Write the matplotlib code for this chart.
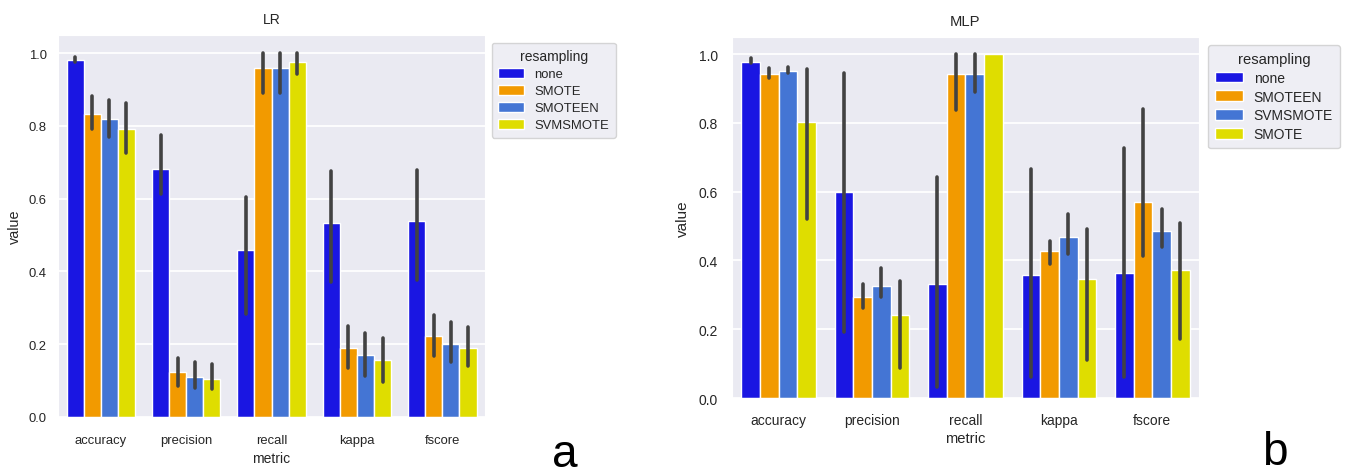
import matplotlib
matplotlib.use('Agg')
import matplotlib.pyplot as plt
import numpy as np
import seaborn as sns

sns.set_style('darkgrid')
plt.rcParams['font.family'] = ['Liberation Sans', 'DejaVu Sans']

metrics = ['accuracy', 'precision', 'recall', 'kappa', 'fscore']

# LR panel
lr_hues = ['none', 'SMOTE', 'SMOTEEN', 'SVMSMOTE']
lr_mean = [[0.980, 0.682, 0.458, 0.532, 0.540],
           [0.834, 0.125, 0.960, 0.190, 0.222],
           [0.818, 0.111, 0.960, 0.170, 0.202],
           [0.793, 0.105, 0.977, 0.157, 0.190]]
lr_lo = [[0.977, 0.614, 0.282, 0.372, 0.376],
         [0.792, 0.085, 0.891, 0.135, 0.168],
         [0.769, 0.081, 0.891, 0.114, 0.151],
         [0.726, 0.076, 0.944, 0.095, 0.140]]
lr_hi = [[0.989, 0.775, 0.605, 0.675, 0.680],
         [0.881, 0.161, 1.000, 0.250, 0.279],
         [0.870, 0.150, 1.000, 0.230, 0.262],
         [0.864, 0.147, 1.000, 0.216, 0.248]]

# MLP panel
mlp_hues = ['none', 'SMOTEEN', 'SVMSMOTE', 'SMOTE']
mlp_mean = [[0.976, 0.599, 0.332, 0.358, 0.364],
            [0.941, 0.295, 0.941, 0.427, 0.569],
            [0.950, 0.327, 0.941, 0.469, 0.486],
            [0.803, 0.240, 1.000, 0.345, 0.371]]
mlp_lo = [[0.974, 0.193, 0.031, 0.062, 0.062],
          [0.931, 0.262, 0.837, 0.391, 0.412],
          [0.945, 0.295, 0.890, 0.419, 0.438],
          [0.521, 0.087, 1.000, 0.112, 0.172]]
mlp_hi = [[0.988, 0.946, 0.643, 0.665, 0.728],
          [0.959, 0.332, 1.000, 0.458, 0.842],
          [0.962, 0.378, 1.000, 0.535, 0.549],
          [0.956, 0.340, 1.000, 0.491, 0.510]]

colors = ['#1a16e2', '#f29a00', '#4475d4', '#dfdd00']


def panel(ax, title, hues, mean, lo, hi, fs, leg_anchor, xpad, ypad, xlpad, ylpad):
    x = np.arange(len(metrics))
    w = 0.2
    for i, h in enumerate(hues):
        pos = x - 0.3 + i * w
        ax.bar(pos, mean[i], width=w, color=colors[i], edgecolor='white',
               linewidth=1, label=h, zorder=2)
        # barres d'erreur (intervalle de confiance)
        for p, l, u in zip(pos, lo[i], hi[i]):
            if u - l > 0.001:
                ax.plot([p, p], [l, u], color='#424242', lw=2.6,
                        solid_capstyle='round', zorder=3)
    ax.set_xlim(-0.5, 4.5)
    ax.set_ylim(0, 1.05)
    ax.set_yticks([0, 0.2, 0.4, 0.6, 0.8, 1.0])
    ax.set_xticks(x)
    ax.set_xticklabels(metrics)
    ax.tick_params(axis='x', labelsize=fs, pad=xpad, length=0)
    ax.tick_params(axis='y', labelsize=fs, pad=ypad, length=0)
    ax.grid(axis='y', color='white', lw=1.3)
    ax.grid(axis='x', visible=False)
    ax.set_axisbelow(True)
    ax.set_title(title, fontsize=fs * 1.06, pad=9)
    ax.set_xlabel('metric', fontsize=fs * 1.06, labelpad=xlpad)
    ax.set_ylabel('value', fontsize=fs * 1.1, labelpad=ylpad)
    leg = ax.legend(title='resampling', loc='upper left', bbox_to_anchor=leg_anchor,
                    bbox_transform=ax.figure.transFigure, fontsize=fs,
                    title_fontsize=fs + 0.6, frameon=True, handlelength=2.0,
                    handleheight=0.8, borderpad=0.5, labelspacing=0.35)
    leg.get_frame().set_facecolor('#eaeaf2')
    leg.get_frame().set_edgecolor('#cccccc')


fig = plt.figure(figsize=(13.47, 4.77), dpi=100)
ax1 = fig.add_axes([0.0431, 0.1237, 0.3170, 0.8008])
ax2 = fig.add_axes([0.5434, 0.1635, 0.3467, 0.7568])

panel(ax1, 'LR', lr_hues, lr_mean, lr_lo, lr_hi, 9.4,
      (485 / 1347, 1 - 37 / 477), 12, 8, 4, 5)
panel(ax2, 'MLP', mlp_hues, mlp_mean, mlp_lo, mlp_hi, 10.0,
      (1201 / 1347, 1 - 39 / 477), 11, 10, 3, 6)

fig.text(565 / 1347, 1 - 467 / 477, 'a', fontsize=33, color='black',
         ha='center', va='baseline')
fig.text(1275 / 1347, 1 - 465 / 477, 'b', fontsize=33, color='black',
         ha='center', va='baseline')

fig.savefig('out.png', dpi=100)
